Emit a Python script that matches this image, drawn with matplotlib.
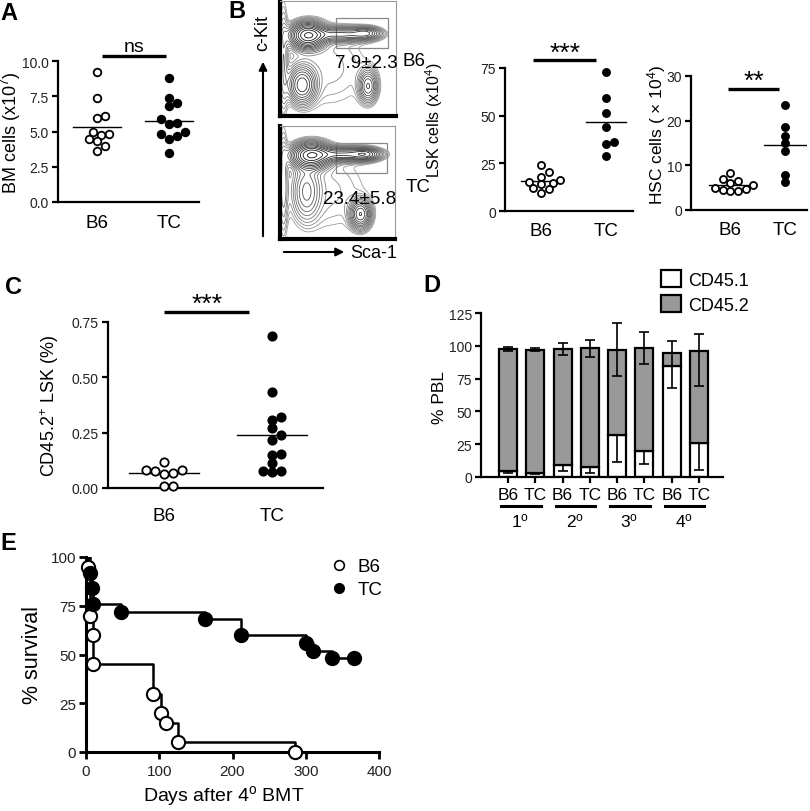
import numpy as np
import matplotlib
matplotlib.use('Agg')
import matplotlib.pyplot as plt
from matplotlib.patches import Rectangle, Patch
from matplotlib.lines import Line2D

plt.rcParams['font.family'] = ['Liberation Sans', 'DejaVu Sans']
plt.rcParams['mathtext.default'] = 'regular'
plt.rcParams['axes.linewidth'] = 1.6
plt.rcParams['xtick.major.width'] = 1.6
plt.rcParams['ytick.major.width'] = 1.6

# ---- data ----
groups = ['B6', 'TC']

# A: bone marrow cells (x10^7)
bm_b6 = [9.2, 7.35, 6.1, 5.95, 4.95, 4.8, 4.75, 4.5, 4.3, 4.0, 3.6]
bm_tc = [8.8, 7.4, 7.0, 6.8, 5.9, 5.6, 5.5, 4.95, 4.8, 4.7, 4.45, 3.5]
bm_mean = [5.33, 5.76]

# B: LSK and HSC numbers (x10^4)
lsk_b6 = [24.0, 20.5, 18.0, 16.5, 15.0, 14.5, 14.0, 12.0, 11.5, 9.5]
lsk_tc = [73.1, 59.2, 51.3, 44.2, 36.3, 34.9, 28.7]
lsk_mean = [15.5, 46.8]
hsc_b6 = [8.2, 7.0, 6.5, 6.0, 5.5, 5.0, 4.8, 4.5, 4.3, 4.2]
hsc_tc = [23.4, 18.5, 16.6, 15.0, 13.3, 7.8, 6.3]
hsc_mean = [5.7, 14.5]

# B: flow plot populations (box units, 0-1)
b6_pop_x = [0.24, 0.52, 0.74, 0.19, 0.76, 0.42, 0.03]
b6_pop_y = [0.70, 0.71, 0.72, 0.27, 0.26, 0.42, 0.50]
b6_pop_sx = [0.08, 0.16, 0.07, 0.065, 0.045, 0.28, 0.025]
b6_pop_sy = [0.06, 0.035, 0.03, 0.09, 0.08, 0.28, 0.30]
b6_pop_w = [1.0, 0.40, 0.30, 0.45, 0.30, 0.05, 0.10]
tc_pop_x = [0.27, 0.55, 0.74, 0.23, 0.70, 0.42, 0.03]
tc_pop_y = [0.74, 0.75, 0.75, 0.42, 0.22, 0.42, 0.50]
tc_pop_sx = [0.09, 0.16, 0.07, 0.07, 0.05, 0.28, 0.025]
tc_pop_sy = [0.06, 0.035, 0.03, 0.15, 0.07, 0.28, 0.30]
tc_pop_w = [1.0, 0.50, 0.40, 0.18, 0.50, 0.05, 0.10]
gate_text = ['7.9\u00b12.3', '23.4\u00b15.8']

# C: CD45.2+ LSK (%)
c_b6 = [0.116, 0.083, 0.083, 0.078, 0.068, 0.063, 0.011, 0.008]
c_tc = [0.687, 0.432, 0.32, 0.308, 0.272, 0.24, 0.219, 0.152, 0.147,
        0.112, 0.075, 0.075, 0.072]
c_mean = [0.066, 0.24]

# D: % PBL chimerism
d_groups = ['B6', 'TC'] * 4
d_rounds = ['1$^{o}$', '2$^{o}$', '3$^{o}$', '4$^{o}$']
cd451 = [4.3, 3.0, 8.9, 7.6, 32.0, 19.6, 84.8, 25.7]
cd452 = [93.3, 94.1, 88.7, 90.5, 65.0, 78.5, 9.5, 70.1]
cd451_err = [1.2, 1.0, 4.0, 4.6, 20.8, 9.7, 17.2, 20.1]
tot_err_lo = [1.5, 1.2, 4.4, 6.5, 20.2, 12.0, 9.6, 26.7]
tot_err_hi = [1.5, 1.2, 4.4, 6.5, 20.4, 12.2, 9.6, 13.2]

# E: survival after 4th BMT
b6_days = [0, 3, 6, 9, 10, 92, 102, 109, 125, 285]
b6_surv = [100, 95, 70, 60, 45, 30, 20, 15, 5, 0]
tc_days = [0, 5, 8, 10, 48, 162, 212, 300, 310, 336, 366]
tc_surv = [100, 92, 84, 76, 72, 68, 60, 56, 52, 48, 48]

W, H = 810, 812
fig = plt.figure(figsize=(W / 100, H / 100), dpi=100)


def px_axes(x0, x1, y0, y1):
    # pixel box (left, right, top, bottom) -> axes
    return fig.add_axes([x0 / W, 1 - y1 / H, (x1 - x0) / W, (y1 - y0) / H])


def swarm(vals, ppu_y, ppu_x, d):
    vals = np.asarray(vals, float)
    cands = [0.0]
    for k in range(1, 10):
        cands += [k * d * 0.55, -k * d * 0.55]
    placed = []
    offs = np.zeros(len(vals))
    for i in np.argsort(vals):
        y = vals[i] * ppu_y
        for c in cands:
            if all((c - px) ** 2 + (y - py) ** 2 >= (d * 0.95) ** 2 for px, py in placed):
                break
        placed.append((c, y))
        offs[i] = c / ppu_x
    return offs


def style(ax, yfs=10):
    ax.spines['top'].set_visible(False)
    ax.spines['right'].set_visible(False)
    ax.tick_params(axis='y', labelsize=yfs, length=4.5, labelcolor='#222222', pad=2)


def dotplot(ax, b6, tc, means, xlim, ylim, ppx, d, msize, half):
    ax.set_xlim(*xlim)
    ax.set_ylim(*ylim)
    ppu_y = ax.bbox.height / (ylim[1] - ylim[0])
    for k, (vals, fill) in enumerate([(b6, 'white'), (tc, 'black')]):
        xo = swarm(vals, ppu_y, ppx, d)
        ax.scatter(k + 1 + xo, vals, s=msize, facecolor=fill, edgecolor='black',
                   linewidth=1.3, zorder=3, clip_on=False)
        ax.plot([k + 1 - half, k + 1 + half], [means[k]] * 2, color='black', lw=1.0, zorder=2)
    ax.set_xticks([1, 2])
    ax.set_xticklabels(groups, fontsize=13.5)
    style(ax)


def sig(ax, x0, x1, y, ty, txt, fs):
    ax.plot([x0, x1], [y, y], color='black', lw=2.4, clip_on=False, solid_capstyle='butt')
    ax.text((x0 + x1) / 2, ty, txt, ha='center', va='center', fontsize=fs)


# ---- A ----
axA = px_axes(58, 199, 62, 203)
dotplot(axA, bm_b6, bm_tc, bm_mean, (0.458, 2.417), (0, 10), 72, 7.5, 30, 0.34)
axA.set_yticks([0, 2.5, 5, 7.5, 10])
axA.set_yticklabels(['0.0', '2.5', '5.0', '7.5', '10.0'])
axA.tick_params(axis='x', length=0, pad=9)
axA.set_ylabel('BM cells (x10$^{7}$)', fontsize=13)
axA.yaxis.set_label_coords(-0.25, 0.5)
sig(axA, 1.07, 1.96, 10.35, 11.05, 'ns', 14)

# ---- B flow plots ----
def flow(ax, px_, py_, sx_, sy_, w_):
    g = np.linspace(0, 1, 240)
    X, Y = np.meshgrid(g, g)
    Z = np.zeros_like(X)
    for cx, cy, sx, sy, w in zip(px_, py_, sx_, sy_, w_):
        Z += w * np.exp(-((X - cx) ** 2 / (2 * sx ** 2) + (Y - cy) ** 2 / (2 * sy ** 2)))
    lv = Z.max() * np.geomspace(0.025, 0.92, 16)
    cols = [str(c) for c in np.linspace(0.62, 0.05, len(lv))]
    ax.contour(X, Y, Z, levels=lv, colors=cols, linewidths=0.6)
    ax.set_xlim(0, 1)
    ax.set_ylim(0, 1)
    ax.set_xticks([])
    ax.set_yticks([])
    for s in ['top', 'right']:
        ax.spines[s].set_color('#999999')
        ax.spines[s].set_linewidth(0.8)
    for s in ['left', 'bottom']:
        ax.spines[s].set_linewidth(3.0)


axF1 = px_axes(280, 396, 2, 117)
flow(axF1, b6_pop_x, b6_pop_y, b6_pop_sx, b6_pop_sy, b6_pop_w)
axF1.add_patch(Rectangle((0.48, 0.59), 0.45, 0.26, fill=False, edgecolor='#888888', lw=0.9))
axF2 = px_axes(280, 395, 127, 240)
flow(axF2, tc_pop_x, tc_pop_y, tc_pop_sx, tc_pop_sy, tc_pop_w)
axF2.add_patch(Rectangle((0.49, 0.58), 0.44, 0.27, fill=False, edgecolor='#888888', lw=0.9))

fig.text(366 / W, 1 - 63 / H, gate_text[0], ha='center', va='center', fontsize=13.5)
fig.text(403 / W, 1 - 62 / H, 'B6', ha='left', va='center', fontsize=13.5)
fig.text(360 / W, 1 - 199 / H, gate_text[1], ha='center', va='center', fontsize=13.5)
fig.text(406 / W, 1 - 188 / H, 'TC', ha='left', va='center', fontsize=13.5)

fig.add_artist(matplotlib.patches.FancyArrowPatch((263 / W, 1 - 240 / H), (263 / W, 1 - 60 / H),
               transform=fig.transFigure, arrowstyle='-|>', mutation_scale=12, lw=1.5, color='black'))
fig.add_artist(matplotlib.patches.FancyArrowPatch((281 / W, 1 - 253 / H), (347 / W, 1 - 253 / H),
               transform=fig.transFigure, arrowstyle='-|>', mutation_scale=12, lw=1.5, color='black'))
fig.text(263 / W, 1 - 33 / H, 'c-Kit', rotation=90, ha='center', va='center', fontsize=13)
fig.text(350 / W, 1 - 253 / H, 'Sca-1', ha='left', va='center', fontsize=13)

# ---- B LSK ----
axL = px_axes(505, 633, 69, 212)
dotplot(axL, lsk_b6, lsk_tc, lsk_mean, (0.446, 2.415), (0, 75), 65, 7, 26, 0.31)
axL.set_yticks([0, 25, 50, 75])
axL.tick_params(axis='x', length=0, pad=8)
axL.set_ylabel('LSK cells (x10$^{4}$)', fontsize=11.5)
axL.yaxis.set_label_coords(-0.47, 0.64)
sig(axL, 0.88, 1.85, 79, 83, '***', 19)

# ---- B HSC ----
axH = px_axes(691, 807, 77, 211)
dotplot(axH, hsc_b6, hsc_tc, hsc_mean, (0.285, 2.4), (0, 30), 55, 7, 26, 0.38)
axH.set_yticks([0, 10, 20, 30])
axH.tick_params(axis='x', length=0, pad=8)
axH.set_ylabel('HSC cells ( \u00d7 10$^{4}$)', fontsize=12.5)
axH.yaxis.set_label_coords(-0.2, 0.57)
sig(axH, 0.96, 1.89, 27.1, 28.9, '**', 19)

# ---- C ----
axC = px_axes(108, 323, 323, 489)
dotplot(axC, c_b6, c_tc, c_mean, (0.481, 2.472), (0, 0.75), 108, 8, 36, 0.32)
axC.set_yticks([0, 0.25, 0.5, 0.75])
axC.set_yticklabels(['0.00', '0.25', '0.50', '0.75'])
axC.tick_params(axis='x', length=0, pad=14)
axC.set_ylabel('CD45.2$^{+}$ LSK (%)', fontsize=13)
axC.yaxis.set_label_coords(-0.22, 0.5)
sig(axC, 1.0, 1.79, 0.795, 0.83, '***', 19)

# ---- D ----
axD = px_axes(481, 723, 314, 478)
xb = np.arange(len(cd451))
axD.bar(xb, cd451, width=0.66, color='white', edgecolor='black', lw=1.6, zorder=2)
axD.bar(xb, cd452, bottom=cd451, width=0.66, color='#999999', edgecolor='black', lw=1.6, zorder=2)
tot = np.array(cd451) + np.array(cd452)
axD.errorbar(xb, tot, yerr=[tot_err_lo, tot_err_hi], fmt='none', ecolor='black',
             elinewidth=1.2, capsize=3.5, capthick=1.2, zorder=3)
axD.errorbar(xb, cd451, yerr=[cd451_err, np.zeros(len(xb))], fmt='none', ecolor='black',
             elinewidth=1.2, capsize=3.5, capthick=1.2, zorder=3)
axD.set_xlim(-0.99, 7.88)
axD.set_ylim(0, 125)
axD.set_yticks([0, 25, 50, 75, 100, 125])
axD.set_xticks(xb)
axD.set_xticklabels(d_groups, fontsize=12.5)
axD.tick_params(axis='x', length=4, pad=3)
style(axD)
axD.set_ylabel('% PBL', fontsize=12.5)
axD.yaxis.set_label_coords(-0.14, 0.49)
tr = axD.get_xaxis_transform()
for i, r in enumerate(d_rounds):
    axD.plot([2 * i - 0.25, 2 * i + 1.2], [-0.177, -0.177], color='black', lw=2.2,
             transform=tr, clip_on=False)
    axD.text(2 * i + 0.45, -0.262, r, transform=tr, ha='center', va='center', fontsize=12.5)
fig.legend([Patch(facecolor='white', edgecolor='black', lw=1.6),
            Patch(facecolor='#999999', edgecolor='black', lw=1.6)],
           ['CD45.1', 'CD45.2'], loc='upper left', bbox_to_anchor=(652 / W, 1 - 262 / H),
           frameon=False, fontsize=13, handlelength=1.1, handleheight=1.1,
           handletextpad=0.4, labelspacing=0.35, borderpad=0)

# ---- E ----
axE = px_axes(86, 379, 558, 753)
axE.step(b6_days, b6_surv, where='post', color='black', lw=1.8, zorder=2)
axE.step(tc_days, tc_surv, where='post', color='black', lw=1.8, zorder=2)
axE.plot(b6_days[1:], b6_surv[1:], 'o', ms=9.5, mfc='white', mec='black', mew=1.5,
         zorder=3, clip_on=False)
axE.plot(tc_days[1:], tc_surv[1:], 'o', ms=9.5, mfc='black', mec='black', mew=1.5,
         zorder=3, clip_on=False)
axE.set_xlim(0, 400)
axE.set_ylim(0, 100)
axE.set_xticks([0, 100, 200, 300, 400])
axE.set_yticks([0, 25, 50, 75, 100])
style(axE, yfs=11)
axE.spines['left'].set_linewidth(2.2)
axE.spines['bottom'].set_linewidth(2.2)
axE.tick_params(axis='x', labelsize=11, length=5, width=2, labelcolor='#222222', pad=4)
axE.tick_params(axis='y', width=2, length=5)
axE.set_ylabel('% survival', fontsize=15.5)
axE.yaxis.set_label_coords(-0.147, 0.5)
axE.set_xlabel('Days after 4$^{o}$ BMT', fontsize=14)
axE.xaxis.set_label_coords(0.47, -0.16)
axE.legend([Line2D([], [], marker='o', ls='', ms=7, mfc='white', mec='black', mew=1.2),
            Line2D([], [], marker='o', ls='', ms=7, mfc='black', mec='black')],
           ['B6', 'TC'], loc='upper left', bbox_to_anchor=(322 / W, 1 - 550 / H),
           bbox_transform=fig.transFigure, frameon=False, fontsize=13.5,
           handlelength=0.8, handletextpad=0.6, labelspacing=0.3, borderpad=0)

# panel letters
for lab, x, y in [('A', 9, 13), ('B', 237, 11), ('C', 14, 288), ('D', 432, 286), ('E', 8, 543)]:
    fig.text(x / W, 1 - y / H, lab, fontsize=17, fontweight='bold', ha='center', va='center')

fig.savefig('out.png', dpi=100)
